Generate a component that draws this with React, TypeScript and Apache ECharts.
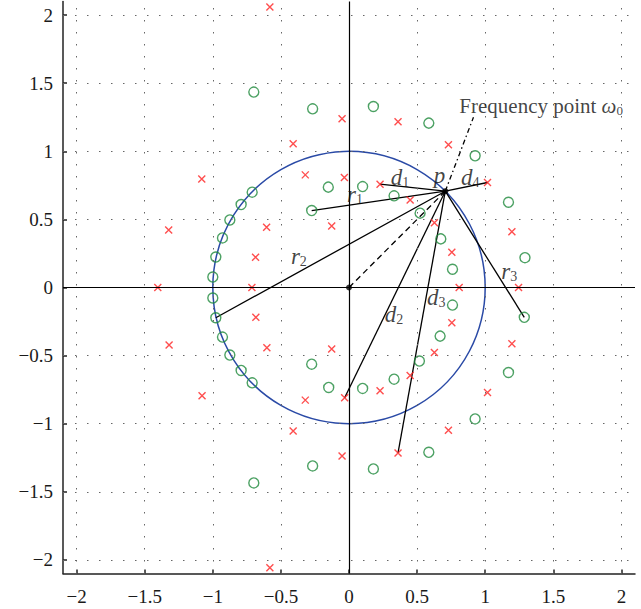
import React, { useEffect, useRef } from "react";
import * as echarts from "echarts";

// Tick values / labels
const tickValues = [-2, -1.5, -1, -0.5, 0, 0.5, 1, 1.5, 2];

// Zeros (green circles)
const zeros: number[][] = [
  [-1.0, 0.077], [-0.978, 0.224], [-0.929, 0.364], [-0.875, 0.496], [-0.792, 0.609], [-0.711, 0.70],
  [-0.699, 1.435], [-0.267, 1.312], [-0.274, 0.565], [-0.152, 0.737], [0.10, 0.741], [0.179, 1.329],
  [0.331, 0.673], [0.586, 1.207], [0.522, 0.546], [0.926, 0.967], [0.674, 0.357], [0.760, 0.134],
  [1.171, 0.626], [1.292, 0.219],
  [-1.0, -0.077], [-0.978, -0.222], [-0.929, -0.364], [-0.875, -0.496], [-0.792, -0.609], [-0.711, -0.70],
  [-0.699, -1.435], [-0.267, -1.31], [-0.274, -0.563], [-0.149, -0.734], [0.10, -0.741], [0.179, -1.332],
  [0.331, -0.673], [0.586, -1.21], [0.517, -0.54], [0.926, -0.965], [0.669, -0.357], [0.760, -0.129],
  [1.171, -0.624], [1.287, -0.219],
];

// Poles (red crosses)
const poles: number[][] = [
  [-0.581, 2.06], [-0.41, 1.055], [-1.081, 0.796], [-0.321, 0.827], [-1.324, 0.423], [-0.605, 0.443],
  [-0.686, 0.222], [-0.051, 1.239], [0.36, 1.217], [0.73, 1.048], [-0.034, 0.807], [0.228, 0.759],
  [0.449, 0.643], [1.017, 0.771], [-0.127, 0.452], [0.627, 0.476], [1.196, 0.41], [0.755, 0.259],
  [-1.404, 0], [-0.713, 0], [0.809, 0], [1.245, 0],
  [-0.581, -2.057], [-0.41, -1.053], [-1.079, -0.795], [-0.321, -0.827], [-1.321, -0.423], [-0.603, -0.442],
  [-0.684, -0.219], [-0.051, -1.237], [0.36, -1.215], [0.73, -1.048], [-0.032, -0.81], [0.228, -0.759],
  [0.449, -0.646], [1.017, -0.771], [-0.127, -0.452], [0.627, -0.477], [1.196, -0.413], [0.755, -0.259],
];

// Frequency point p and the vectors drawn from it
const pointP = [0.707, 0.707];
const origin = [0, 0];
const solidTargets: number[][] = [
  [0.228, 0.759], [1.017, 0.771], [-0.274, 0.565], [-0.978, -0.222],
  [-0.032, -0.81], [0.36, -1.215], [1.287, -0.219],
];
const leaderEnd = [0.914, 1.25];

// Annotation labels: [x, y, rich text]
const annotations: [number, number, string][] = [
  [0.375, 0.81, "{i|d}{s|1}"],
  [0.665, 0.825, "{i|p}"],
  [0.89, 0.805, "{i|d}{s|4}"],
  [0.044, 0.68, "{i|r}{s|1}"],
  [-0.368, 0.225, "{i|r}{s|2}"],
  [1.176, 0.117, "{i|r}{s|3}"],
  [0.331, -0.195, "{i|d}{s|2}"],
  [0.64, -0.075, "{i|d}{s|3}"],
];
const freqLabel = [0.81, 1.335];

const FONT = "'Liberation Serif', 'DejaVu Serif', serif";
const fmt = (v: number) => (v < 0 ? "\u2212" + Math.abs(v) : String(v));

export default function App() {
  const ref = useRef<HTMLDivElement>(null);
  useEffect(() => {
    document.body.style.margin = "0";
    const chart = echarts.init(ref.current!, null, { renderer: "svg" });
    const gridDots = { type: [1.5, 10.5] as any, color: "#666", width: 1 };
    const markData: any[] = [];
    tickValues.forEach((v) => {
      if (v !== 0) {
        markData.push({ xAxis: v, lineStyle: gridDots });
        markData.push({ yAxis: v, lineStyle: gridDots });
      }
    });
    markData.push({ xAxis: 0, lineStyle: { type: "solid", color: "#000", width: 1.2 } });
    markData.push({ yAxis: 0, lineStyle: { type: "solid", color: "#000", width: 1.2 } });

    const segs = solidTargets.map((t) => [pointP[0], pointP[1], t[0], t[1], 0]);
    segs.push([origin[0], origin[1], pointP[0], pointP[1], 1]);
    segs.push([pointP[0], pointP[1], leaderEnd[0], leaderEnd[1], 2]);

    const axisCommon = {
      type: "value",
      min: -2.1,
      max: 2.1,
      splitLine: { show: false },
      axisLine: { show: true, onZero: false, lineStyle: { color: "#222", width: 1.5 } },
      axisTick: { show: true, inside: true, length: 4, customValues: tickValues, lineStyle: { color: "#222", width: 1.5 } },
      axisLabel: {
        customValues: tickValues,
        formatter: fmt,
        fontFamily: FONT,
        fontSize: 19,
        color: "#1a1a1a",
      },
    };

    chart.setOption({
      animation: false,
      grid: { left: 63, right: 6, top: 1.5, bottom: 35.5 },
      xAxis: { ...axisCommon, axisLabel: { ...axisCommon.axisLabel, margin: 13 } },
      yAxis: { ...axisCommon, axisLabel: { ...axisCommon.axisLabel, margin: 10 } },
      series: [
        {
          type: "scatter",
          data: [],
          z: 0,
          silent: true,
          markLine: { symbol: "none", silent: true, label: { show: false }, data: markData },
        },
        {
          type: "custom",
          z: 2,
          silent: true,
          data: [[origin[0], origin[1], 1]],
          renderItem: (params: any, api: any) => {
            const c = api.coord([api.value(0), api.value(1)]);
            const e = api.coord([api.value(0) + api.value(2), api.value(1)]);
            return {
              type: "circle",
              shape: { cx: c[0], cy: c[1], r: e[0] - c[0] },
              style: { fill: "none", stroke: "#2a4aa6", lineWidth: 1.5 },
            };
          },
        },
        {
          type: "custom",
          z: 3,
          silent: true,
          data: segs,
          renderItem: (params: any, api: any) => {
            const a = api.coord([api.value(0), api.value(1)]);
            const b = api.coord([api.value(2), api.value(3)]);
            const kind = api.value(4);
            const dash = kind === 1 ? [6, 4] : kind === 2 ? [5, 3, 1.5, 3] : null;
            return {
              type: "line",
              shape: { x1: a[0], y1: a[1], x2: b[0], y2: b[1] },
              style: { stroke: "#000", lineWidth: 1.3, lineDash: dash },
            };
          },
        },
        {
          type: "scatter",
          z: 4,
          data: zeros,
          symbol: "circle",
          symbolSize: 10,
          itemStyle: { color: "none", borderColor: "#1f8a3c", borderWidth: 1.4 },
        },
        {
          type: "scatter",
          z: 4,
          data: poles,
          symbol: "path://M0,0L10,10M10,0L0,10",
          symbolSize: 7,
          itemStyle: { color: "none", borderColor: "#ff2222", borderWidth: 1.4 },
        },
        {
          type: "scatter",
          z: 5,
          data: [origin, pointP],
          symbol: "circle",
          symbolSize: 6,
          itemStyle: { color: "#000" },
        },
        {
          type: "scatter",
          z: 6,
          symbolSize: 0,
          silent: true,
          data: annotations.map((a) => ({ value: [a[0], a[1]], label: { formatter: a[2] } })),
          label: {
            show: true,
            position: "inside",
            color: "#111",
            fontSize: 22,
            fontFamily: FONT,
            rich: {
              i: { fontFamily: FONT, fontStyle: "italic", fontSize: 23, color: "#111" },
              s: { fontFamily: FONT, fontSize: 14, color: "#111", padding: [10, 0, 0, 0] },
            },
          },
        },
        {
          type: "scatter",
          z: 6,
          symbolSize: 0,
          silent: true,
          data: [{ value: freqLabel, label: { formatter: "{t|Frequency point }{i|\u03c9}{s|0}" } }],
          label: {
            show: true,
            position: "right",
            distance: 0,
            color: "#111",
            fontSize: 21,
            fontFamily: FONT,
            rich: {
              t: { fontFamily: FONT, fontSize: 21, color: "#111" },
              i: { fontFamily: FONT, fontStyle: "italic", fontSize: 21, color: "#111" },
              s: { fontFamily: FONT, fontSize: 13, color: "#111", padding: [10, 0, 0, 0] },
            },
          },
        },
      ],
    });
    return () => chart.dispose();
  }, []);
  return <div ref={ref} style={{ width: 641, height: 609 }} />;
}
